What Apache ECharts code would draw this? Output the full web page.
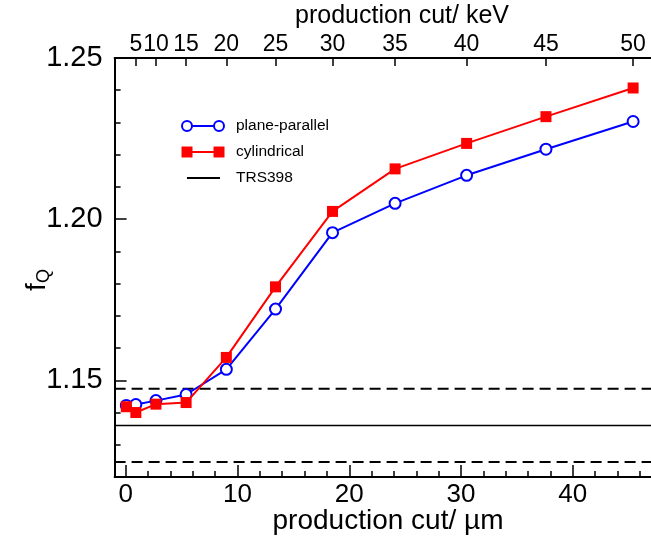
<!DOCTYPE html>
<html>
<head>
<meta charset="utf-8">
<script src="https://cdn.jsdelivr.net/npm/echarts@6/dist/echarts.min.js"></script>
<style>
  html, body { margin: 0; padding: 0; background: #fff; }
  #chart { width: 651px; height: 537px; }
</style>
</head>
<body>
<div id="chart"></div>
<script>
// Production cut in micrometres for each simulated point
const cutMicron = [0.05, 0.9, 2.7, 5.4, 9.0, 13.4, 18.5, 24.1, 30.5, 37.6, 45.4];
// Equivalent production cut in keV (top axis), placed at the matching micrometre positions
const keVPositions = [0.9, 2.7, 5.4, 9.0, 13.4, 18.5, 24.1, 30.5, 37.6, 45.4];
const keVLabels = ['5', '10', '15', '20', '25', '30', '35', '40', '45', '50'];

// Beam quality correction factor f_Q for each chamber type
const planeParallel = [1.1422, 1.1425, 1.1437, 1.1456, 1.1534, 1.1721, 1.1958, 1.2049, 1.2136, 1.2217, 1.2303];
const cylindrical   = [1.1418, 1.1400, 1.1426, 1.1431, 1.1571, 1.1790, 1.2024, 1.2156, 1.2235, 1.2318, 1.2407];

// TRS-398 reference value and its ±1 % band
const trs398 = 1.136;
const trsTolerance = 0.01;

// Axis ranges and tick positions
const xMin = -1, xMax = 47;
const yMin = 1.12, yMax = 1.25;
const xMajor = [0, 10, 20, 30, 40];
const xMinor = [2, 4, 6, 8, 12, 14, 16, 18, 22, 24, 26, 28, 32, 34, 36, 38, 42, 44, 46];
const yMajor = [1.15, 1.20, 1.25];
const yMinor = [1.13, 1.14, 1.16, 1.17, 1.18, 1.19, 1.21, 1.22, 1.23, 1.24];

const FONT = 'Liberation Sans, Arial, Helvetica, sans-serif';

const chart = echarts.init(document.getElementById('chart'), null, { renderer: 'canvas' });

const pairs = (xs, ys) => xs.map((x, i) => [x, ys[i]]);
const hLine = v => [[xMin, v], [xMax, v]];

const option = {
  animation: false,
  backgroundColor: '#ffffff',
  grid: { left: 114.6, top: 58, width: 545.8, height: 419, containLabel: false },
  xAxis: [
    { // bottom axis: line, major ticks, labels
      type: 'value', position: 'bottom', min: xMin, max: xMax,
      axisLine: { show: true, onZero: false, lineStyle: { color: '#000', width: 2 } },
      axisTick: { show: true, inside: true, length: 12, customValues: xMajor, lineStyle: { color: '#000', width: 1.5 } },
      axisLabel: { show: true, customValues: xMajor, margin: 5, color: '#000', fontFamily: FONT, fontSize: 26 },
      splitLine: { show: false }
    },
    { // bottom axis: minor ticks
      type: 'value', position: 'bottom', min: xMin, max: xMax,
      axisLine: { show: false, onZero: false },
      axisTick: { show: true, inside: true, length: 6, customValues: xMinor, lineStyle: { color: '#000', width: 1.5 } },
      axisLabel: { show: false },
      splitLine: { show: false }
    },
    { // top axis: production cut in keV
      type: 'value', position: 'top', min: xMin, max: xMax,
      axisLine: { show: true, onZero: false, lineStyle: { color: '#000', width: 2 } },
      axisTick: { show: true, inside: true, length: 8, customValues: keVPositions, lineStyle: { color: '#000', width: 1.5 } },
      axisLabel: {
        show: true, customValues: keVPositions, margin: 2, color: '#000', fontFamily: FONT, fontSize: 23,
        formatter: v => {
          const i = keVPositions.findIndex(p => Math.abs(p - v) < 1e-6);
          return i >= 0 ? keVLabels[i] : '';
        }
      },
      splitLine: { show: false }
    }
  ],
  yAxis: [
    { // left axis: line, major ticks, labels
      type: 'value', position: 'left', min: yMin, max: yMax,
      axisLine: { show: true, onZero: false, lineStyle: { color: '#000', width: 2 } },
      axisTick: { show: true, inside: true, length: 12, customValues: yMajor, lineStyle: { color: '#000', width: 1.5 } },
      axisLabel: {
        show: true, customValues: yMajor, margin: 12, color: '#000', fontFamily: FONT, fontSize: 29,
        formatter: v => v.toFixed(2)
      },
      splitLine: { show: false }
    },
    { // left axis: minor ticks
      type: 'value', position: 'left', min: yMin, max: yMax,
      axisLine: { show: false, onZero: false },
      axisTick: { show: true, inside: true, length: 6, customValues: yMinor, lineStyle: { color: '#000', width: 1.5 } },
      axisLabel: { show: false },
      splitLine: { show: false }
    }
  ],
  series: [
    {
      name: 'TRS398', type: 'line', xAxisIndex: 0, yAxisIndex: 0,
      data: hLine(trs398), symbol: 'none', silent: true,
      lineStyle: { color: '#000', width: 1.5 }
    },
    {
      name: 'TRS398 +1%', type: 'line', xAxisIndex: 0, yAxisIndex: 0,
      data: hLine(+(trs398 * (1 + trsTolerance)).toFixed(5)), symbol: 'none', silent: true,
      lineStyle: { color: '#000', width: 2, type: [11, 6] }
    },
    {
      name: 'TRS398 -1%', type: 'line', xAxisIndex: 0, yAxisIndex: 0,
      data: hLine(+(trs398 * (1 - trsTolerance)).toFixed(5)), symbol: 'none', silent: true,
      lineStyle: { color: '#000', width: 2, type: [11, 6] }
    },
    {
      name: 'plane-parallel', type: 'line', xAxisIndex: 0, yAxisIndex: 0,
      data: pairs(cutMicron, planeParallel),
      symbol: 'circle', symbolSize: 11, showAllSymbol: true,
      lineStyle: { color: '#0000ff', width: 2 },
      itemStyle: { color: '#ffffff', borderColor: '#0000ff', borderWidth: 2 },
      z: 3
    },
    {
      name: 'cylindrical', type: 'line', xAxisIndex: 0, yAxisIndex: 0,
      data: pairs(cutMicron, cylindrical),
      symbol: 'rect', symbolSize: 11, showAllSymbol: true,
      lineStyle: { color: '#ff0000', width: 2 },
      itemStyle: { color: '#ff0000', borderWidth: 0 },
      z: 4
    }
  ],
  graphic: [
    // axis titles
    { type: 'text', x: 402, y: 16, style: { text: 'production cut/ keV', fill: '#000', font: '25px ' + FONT, textAlign: 'center', textVerticalAlign: 'middle' } },
    { type: 'text', x: 388, y: 521, style: { text: 'production cut/ µm', fill: '#000', font: '28px ' + FONT, textAlign: 'center', textVerticalAlign: 'middle' } },
    {
      type: 'text', x: 37, y: 280, rotation: Math.PI / 2,
      style: {
        text: '{f|f}{q|Q}', align: 'center', verticalAlign: 'middle', fill: '#000',
        rich: {
          f: { fontSize: 28, fontFamily: FONT, fill: '#000' },
          q: { fontSize: 18, fontFamily: FONT, fill: '#000', verticalAlign: 'bottom', padding: [14, 0, 0, 0] }
        }
      }
    },
    // legend: plane-parallel
    { type: 'line', shape: { x1: 187, y1: 126, x2: 219, y2: 126 }, style: { stroke: '#0000ff', lineWidth: 2 } },
    { type: 'circle', shape: { cx: 187, cy: 126, r: 5 }, style: { fill: '#fff', stroke: '#0000ff', lineWidth: 2 } },
    { type: 'circle', shape: { cx: 219, cy: 126, r: 5 }, style: { fill: '#fff', stroke: '#0000ff', lineWidth: 2 } },
    { type: 'text', x: 236, y: 126, style: { text: 'plane-parallel', fill: '#000', font: '15.5px ' + FONT, textVerticalAlign: 'middle' } },
    // legend: cylindrical
    { type: 'line', shape: { x1: 187, y1: 152, x2: 219, y2: 152 }, style: { stroke: '#ff0000', lineWidth: 2 } },
    { type: 'rect', shape: { x: 181.5, y: 146.5, width: 11, height: 11 }, style: { fill: '#ff0000' } },
    { type: 'rect', shape: { x: 213.5, y: 146.5, width: 11, height: 11 }, style: { fill: '#ff0000' } },
    { type: 'text', x: 236, y: 152, style: { text: 'cylindrical', fill: '#000', font: '15.5px ' + FONT, textVerticalAlign: 'middle' } },
    // legend: TRS398
    { type: 'line', shape: { x1: 187, y1: 178, x2: 220, y2: 178 }, style: { stroke: '#000', lineWidth: 2 } },
    { type: 'text', x: 236, y: 178, style: { text: 'TRS398', fill: '#000', font: '15.5px ' + FONT, textVerticalAlign: 'middle' } }
  ]
};

chart.setOption(option);
</script>
</body>
</html>
